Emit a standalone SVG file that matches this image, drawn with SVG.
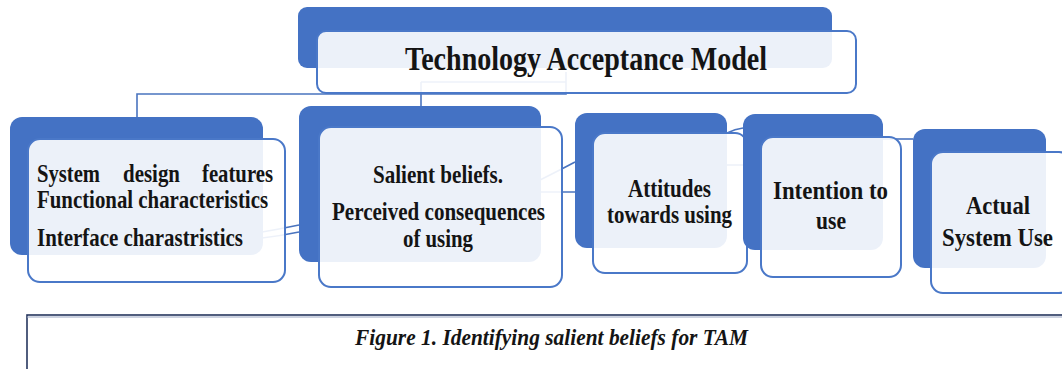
<svg xmlns="http://www.w3.org/2000/svg" width="1062" height="369" viewBox="0 0 1062 369">
  <style>
    .back { fill: #4472c4; }
    .front { fill: #ffffff; fill-opacity: 0.9; stroke: #4a78c8; stroke-width: 2; }
    .conn { fill: none; stroke: #4a74bf; stroke-width: 1.6; }
    .label { font-family: "Liberation Serif", "Times New Roman", serif; font-weight: bold; fill: #141414; }
    .node { font-size: 25px; }
    .title { font-size: 34px; }
    .caption { font-family: "Liberation Serif", "Times New Roman", serif; font-style: italic; font-weight: bold; font-size: 24px; fill: #141414; }
  </style>
  <rect width="1062" height="369" fill="#ffffff"/>

  <!-- connectors (drawn first so the translucent card faces soften them) -->
  <g id="connectors">
    <path class="conn" d="M566,72 V94 H137 V117"/>
    <path class="conn" d="M421,82 H566"/>
    <path class="conn" d="M421,82 V106"/>
    <path class="conn" d="M262,232 Q280,229 299,225"/>
    <path class="conn" d="M262,238 Q280,236 299,232"/>
    <path class="conn" d="M540,180 Q560,170 575,162"/>
    <path class="conn" d="M540,192 H575"/>
    <path class="conn" d="M727,133 Q735,129 743,128"/>
    <path class="conn" d="M727,165 H743"/>
    <path class="conn" d="M883,139 H913"/>
  </g>

  <g id="node-tam">
    <rect class="back" x="298" y="7" width="534" height="61" rx="9"/>
    <rect class="front" x="317" y="31" width="539" height="62" rx="9"/>
    <text class="label title" x="405" y="70" textLength="362" lengthAdjust="spacingAndGlyphs">Technology Acceptance Model</text>
  </g>

  <g id="node-system-design">
    <rect class="back" x="10" y="117" width="253" height="138" rx="12"/>
    <rect class="front" x="28" y="139" width="257" height="143" rx="12"/>
    <text class="label node" x="37" y="182" textLength="63" lengthAdjust="spacingAndGlyphs">System</text>
    <text class="label node" x="123" y="182" textLength="57" lengthAdjust="spacingAndGlyphs">design</text>
    <text class="label node" x="202" y="182" textLength="71" lengthAdjust="spacingAndGlyphs">features</text>
    <text class="label node" x="37" y="208" textLength="231" lengthAdjust="spacingAndGlyphs">Functional characteristics</text>
    <text class="label node" x="37" y="246" textLength="206" lengthAdjust="spacingAndGlyphs">Interface charastristics</text>
  </g>

  <g id="node-salient-beliefs">
    <rect class="back" x="299" y="106" width="242" height="156" rx="12"/>
    <rect class="front" x="319" y="127" width="243" height="160" rx="12"/>
    <text class="label node" x="373" y="183" textLength="130" lengthAdjust="spacingAndGlyphs">Salient beliefs.</text>
    <text class="label node" x="332" y="220" textLength="213" lengthAdjust="spacingAndGlyphs">Perceived consequences</text>
    <text class="label node" x="403" y="247" textLength="70" lengthAdjust="spacingAndGlyphs">of using</text>
  </g>

  <g id="node-attitudes">
    <rect class="back" x="575" y="113" width="152" height="135" rx="12"/>
    <rect class="front" x="593" y="133" width="154" height="140" rx="12"/>
    <text class="label node" x="628" y="197" textLength="83" lengthAdjust="spacingAndGlyphs">Attitudes</text>
    <text class="label node" x="607" y="223" textLength="125" lengthAdjust="spacingAndGlyphs">towards using</text>
  </g>

  <g id="node-intention">
    <rect class="back" x="743" y="114" width="140" height="136" rx="12"/>
    <rect class="front" x="761" y="137" width="140" height="140" rx="12"/>
    <text class="label node" x="773" y="199" textLength="115" lengthAdjust="spacingAndGlyphs">Intention to</text>
    <text class="label node" x="816" y="229" textLength="30" lengthAdjust="spacingAndGlyphs">use</text>
  </g>

  <g id="node-actual-use">
    <rect class="back" x="913" y="129" width="133" height="139" rx="12"/>
    <rect class="front" x="931" y="152" width="140" height="141" rx="12"/>
    <text class="label node" x="966" y="214" textLength="64" lengthAdjust="spacingAndGlyphs">Actual</text>
    <text class="label node" x="942" y="246" textLength="111" lengthAdjust="spacingAndGlyphs">System Use</text>
  </g>

  <g id="caption">
    <rect x="27" y="315" width="1050" height="70" fill="#ffffff" stroke="#26365e" stroke-width="1.6"/>
    <line x1="27" y1="317" x2="1062" y2="317" stroke="#9aa6c2" stroke-width="1"/>
    <text class="caption" x="355" y="345" textLength="393" lengthAdjust="spacingAndGlyphs">Figure  1. Identifying salient beliefs for TAM</text>
  </g>
</svg>
